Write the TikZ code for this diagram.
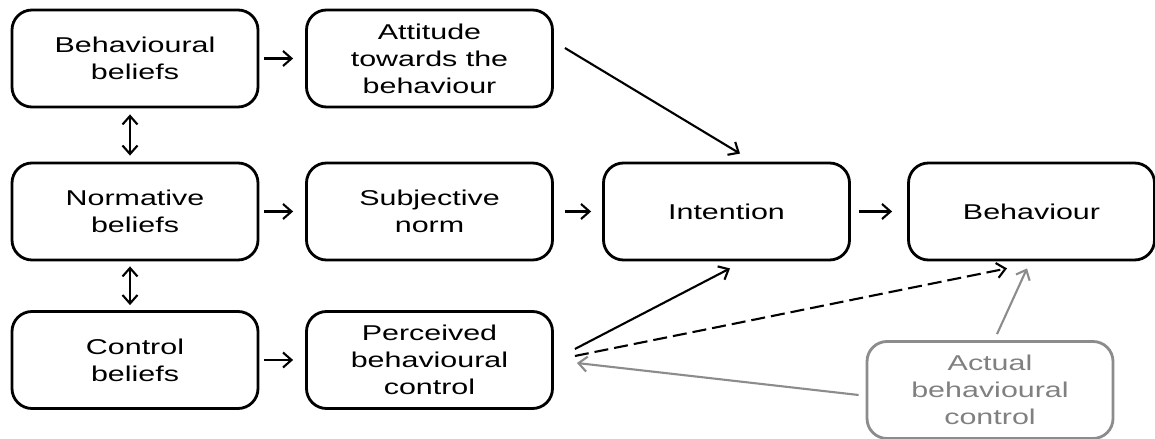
\documentclass[tikz,border=0pt]{standalone}
\usepackage{fontspec}
\setmainfont{Liberation Sans}[FakeStretch=1.42]
\usepackage{xcolor}
\usetikzlibrary{arrows}
\usetikzlibrary{arrows.meta}
\usetikzlibrary{calc}

\begin{document}
\begin{tikzpicture}[box/.style={draw, rounded corners=0.4cm, minimum width=4.92cm, minimum height=1.94cm, align=center, line width=1.6pt, font=\fontsize{12.2}{15.4}\selectfont}, line/.style={>={Straight Barb[length=0.17cm, width=0.3cm]}, line width=1.2pt}, actual/.style={draw=black!45, text=black!50}]
	\useasboundingbox (0, 0) rectangle (23.1, 8.78);
	\node[box] (BB) at (2.70, 7.61) {Behavioural\\beliefs};
	\node[box] (Att) at (8.59, 7.61) {Attitude\\towards the\\behaviour};
	\node[box] (NB) at (2.70, 4.55) {Normative\\beliefs};
	\node[box] (SN) at (8.59, 4.55) {Subjective\\norm};
	\node[box] (Int) at (14.53, 4.55) {Intention};
	\node[box] (Beh) at (20.63, 4.55) {Behaviour};
	\node[box] (CB) at (2.70, 1.58) {Control\\beliefs};
	\node[box] (PBC) at (8.59, 1.58) {Perceived\\behavioural\\control};
	\node[box, actual] (ABC) at (19.80, 0.98) {Actual\\behavioural\\control};
	\draw[<->, line, shorten <=0.12cm, shorten >=0.12cm] ([xshift=-0.1cm]BB.south) -- ([xshift=-0.1cm]NB.north);
	\draw[<->, line, shorten <=0.1cm, shorten >=0.1cm] ([xshift=-0.1cm]NB.south) -- ([xshift=-0.1cm]CB.north);
	\draw[->, line, shorten <=0.1cm, shorten >=0.24cm] (BB) -- (Att);
	\draw[->, line, shorten <=0.1cm, shorten >=0.24cm] (NB) -- (SN);
	\draw[->, line, shorten <=0.1cm, shorten >=0.24cm] (CB) -- (PBC);
	\draw[->, line, shorten <=0.22cm, shorten >=0.22cm] (SN) -- (Int);
	\draw[->, line, shorten <=0.16cm, shorten >=0.3cm] (Int) -- (Beh);
	\draw[->, line] ([shift={(0.22,0.21)}]Att.east) -- ([shift={(0.27,0.16)}]Int.north);
	\draw[->, line] ([shift={(0.42,0.22)}]PBC.east) -- ([shift={(0.07,-0.14)}]Int.south);
	\draw[->, line, dash pattern=on 0.28cm off 0.12cm] ([shift={(0.42,0.08)}]PBC.east) -- ([shift={(-0.49,-0.14)}]Beh.south);
	\draw[->, line, color=black!45] ([shift={(-0.14,-0.1)}]ABC.west) -- ([shift={(0.46,-0.06)}]PBC.east);
	\draw[->, line, color=black!45] ([shift={(0.14,0.12)}]ABC.north) -- ([shift={(-0.09,-0.14)}]Beh.south);
\end{tikzpicture}
\end{document}
